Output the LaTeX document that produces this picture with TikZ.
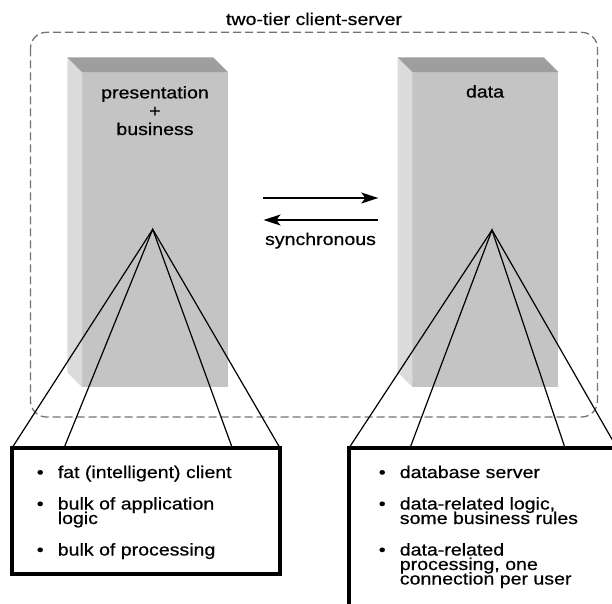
\documentclass[tikz,border=0pt]{standalone}
\usepackage{fontspec}
\setmainfont{Liberation Sans}[FakeStretch=1.15, FakeBold=0.6]
\usetikzlibrary{arrows, arrows.meta}
\usetikzlibrary{calc}

\definecolor{facefront}{gray}{0.77}
\definecolor{facetop}{gray}{0.62}
\definecolor{faceside}{gray}{0.86}
\definecolor{framegray}{gray}{0.45}

\newcommand{\listbullet}{\makebox[21pt][l]{\textbullet}}
\newcommand{\listindent}{\hspace*{21pt}}
\lineskiplimit=-50pt

\begin{document}
\begin{tikzpicture}[x=1pt, y=-1pt,
    txt/.style={font=\fontsize{17}{18.3}\selectfont, inner sep=0pt},
    listtxt/.style={font=\fontsize{17}{14.5}\selectfont, align=left, inner sep=0pt, anchor=base west},
    front/.style={fill=facefront, inner sep=0pt, outer sep=0pt, anchor=north west, minimum width=146pt, minimum height=315pt},
    infobox/.style={draw, line width=4pt, inner sep=0pt, outer sep=0pt, anchor=north west, minimum width=268pt},
    fan/.style={line width=1.2pt},
    flow/.style={line width=1.3pt, -{Stealth[length=17pt, width=11pt, inset=4pt]}}]

  \useasboundingbox (0,0) rectangle (612,603);
  \clip (0,0) rectangle (612,603);

  \node[txt, anchor=base] (title) at (314,25) {two-tier client-server};
  \draw[framegray, line width=1.3pt, dash pattern=on 8pt off 4pt, rounded corners=16pt] (30.5,32.3) rectangle (597.5,417);

  % left tier
  \node[front] (tierA) at (82,72) {};
  \fill[faceside] ($(tierA.north west)+(-14.7,-14.7)$) -- (tierA.north west) -- (tierA.south west) -- ($(tierA.south west)+(-14.7,-14.7)$) -- cycle;
  \fill[facetop] ($(tierA.north west)+(-14.7,-14.7)$) -- ($(tierA.north east)+(-14.7,-14.7)$) -- (tierA.north east) -- (tierA.north west) -- cycle;
  \node[txt, align=center, anchor=base] (tierAname) at (155,135) {presentation\\+\\business};

  % right tier
  \node[front] (tierB) at (412.3,72) {};
  \fill[faceside] ($(tierB.north west)+(-14.7,-14.7)$) -- (tierB.north west) -- (tierB.south west) -- ($(tierB.south west)+(-14.7,-14.7)$) -- cycle;
  \fill[facetop] ($(tierB.north west)+(-14.7,-14.7)$) -- ($(tierB.north east)+(-14.7,-14.7)$) -- (tierB.north east) -- (tierB.north west) -- cycle;
  \node[txt, anchor=base] (tierBname) at (485,97.5) {data};

  % synchronous calls
  \coordinate (callL) at (263,198);
  \coordinate (callR) at (378.3,198);
  \coordinate (backR) at (378,220);
  \coordinate (backL) at (263.5,220);
  \draw[flow] (callL) -- (callR);
  \draw[flow] (backR) -- (backL);
  \node[txt, anchor=base] (synclabel) at (320.5,245) {synchronous};

  % detail boxes
  \node[infobox, minimum height=126pt] (clientbox) at (12,448) {};
  \node[infobox, minimum height=200pt] (serverbox) at (349,448) {};

  \node[listtxt] (clientlist) at (36.6,555.5) {\listbullet fat (intelligent) client\\[17pt]\listbullet bulk of application\\\listindent logic\\[17pt]\listbullet bulk of processing};
  \node[listtxt] (serverlist) at (378.6,584.5) {\listbullet database server\\[17pt]\listbullet data-related logic,\\\listindent some business rules\\[17pt]\listbullet data-related\\\listindent processing, one\\\listindent connection per user};

  % fans
  \coordinate (clientapex) at (152.7,229.3);
  \coordinate (clientfanB) at (64,448);
  \coordinate (clientfanC) at (232.3,448);
  \draw[fan] (clientbox.north west) -- (clientapex) -- (clientbox.north east);
  \draw[fan] (clientfanB) -- (clientapex) -- (clientfanC);

  \coordinate (serverapex) at (492,230);
  \coordinate (serverfanB) at (410,448);
  \coordinate (serverfanC) at (565,448);
  \draw[fan] (serverbox.north west) -- (serverapex) -- (serverbox.north east);
  \draw[fan] (serverfanB) -- (serverapex) -- (serverfanC);
\end{tikzpicture}
\end{document}
